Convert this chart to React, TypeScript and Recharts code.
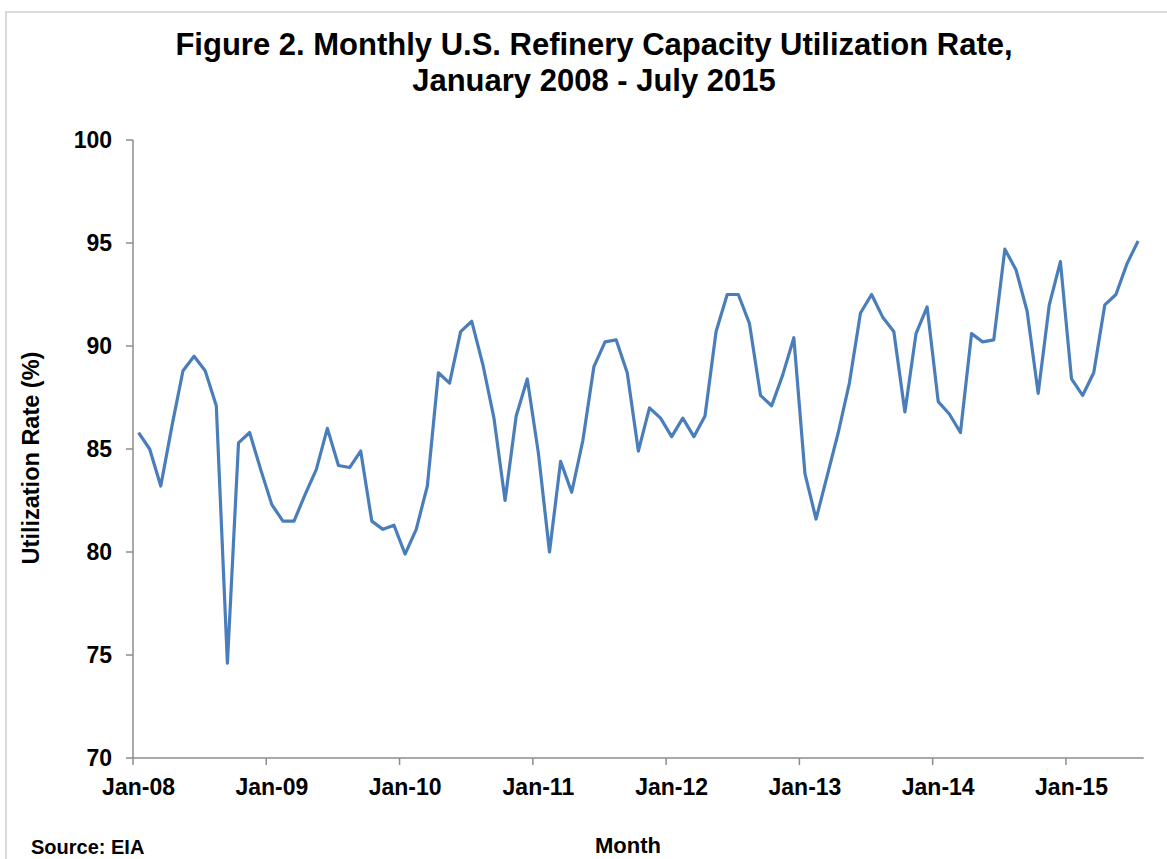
import React from "react";
import { LineChart, Line, XAxis, YAxis } from "recharts";

// monthly refinery utilization (%)
const RATE_2008 = [85.8, 85.0, 83.2, 86.1, 88.8, 89.5, 88.8, 87.1, 74.6, 85.3, 85.8, 84.0];
const RATE_2009 = [82.3, 81.5, 81.5, 82.8, 84.0, 86.0, 84.2, 84.1, 84.9, 81.5, 81.1, 81.3];
const RATE_2010 = [79.9, 81.1, 83.2, 88.7, 88.2, 90.7, 91.2, 89.1, 86.5, 82.5, 86.6, 88.4];
const RATE_2011 = [84.8, 80.0, 84.4, 82.9, 85.4, 89.0, 90.2, 90.3, 88.7, 84.9, 87.0, 86.5];
const RATE_2012 = [85.6, 86.5, 85.6, 86.6, 90.7, 92.5, 92.5, 91.1, 87.6, 87.1, 88.6, 90.4];
const RATE_2013 = [83.8, 81.6, 83.7, 85.8, 88.2, 91.6, 92.5, 91.4, 90.7, 86.8, 90.6, 91.9];
const RATE_2014 = [87.3, 86.7, 85.8, 90.6, 90.2, 90.3, 94.7, 93.7, 91.7, 87.7, 92.0, 94.1];
const RATE_2015 = [88.4, 87.6, 88.7, 92.0, 92.5, 94.0, 95.1];

const YEAR_LABELS = ["Jan-08", "Jan-09", "Jan-10", "Jan-11", "Jan-12", "Jan-13", "Jan-14", "Jan-15"];
const Y_TICKS = [70, 75, 80, 85, 90, 95, 100];

const rates = [
    ...RATE_2008, ...RATE_2009, ...RATE_2010, ...RATE_2011,
    ...RATE_2012, ...RATE_2013, ...RATE_2014, ...RATE_2015,
];
// each month sits in the middle of its slot, like Excel's date axis
const data = rates.map((rate, i) => ({ month: i + 0.5, rate }));
const MONTHS = rates.length;

const W = 1167;
const H = 859;
const PLOT_LEFT = 133;
const PLOT_RIGHT = 1143.7;
const HALF_MONTH = (PLOT_RIGHT - PLOT_LEFT) / MONTHS / 2;

const FONT = '"Liberation Sans", Arial, sans-serif';
const AXIS_GRAY = "#8c8c8c";

function MonthTick(props: any) {
    const { x, y, payload } = props;
    const label = YEAR_LABELS[Math.round(payload.value / 12)];
    return (
        <text
            x={x + HALF_MONTH}
            y={y + 30}
            textAnchor="middle"
            fontFamily={FONT}
            fontWeight="bold"
            fontSize={23}
            fill="#000"
        >
            {label}
        </text>
    );
}

export default function App() {
    return (
        <div
            style={{
                position: "absolute",
                left: 0,
                top: 0,
                width: W,
                height: H,
                overflow: "hidden",
                background: "#fff",
            }}
        >
            {/* chart frame, runs off the right and bottom edges */}
            <div
                style={{
                    position: "absolute",
                    left: 5,
                    top: 11,
                    width: 1300,
                    height: 1000,
                    border: "2px solid #d9d9d9",
                }}
            />
            <div style={{ position: "absolute", left: 0, top: 0 }}>
                <LineChart
                    width={W}
                    height={H}
                    data={data}
                    margin={{ top: 140, right: W - PLOT_RIGHT, bottom: 61, left: 53 }}
                >
                    <XAxis
                        dataKey="month"
                        type="number"
                        domain={[0, MONTHS]}
                        ticks={[0, 12, 24, 36, 48, 60, 72, 84]}
                        interval={0}
                        height={40}
                        tickSize={7}
                        tickMargin={0}
                        stroke={AXIS_GRAY}
                        strokeWidth={1.5}
                        tick={<MonthTick />}
                    />
                    <YAxis
                        type="number"
                        domain={[70, 100]}
                        ticks={Y_TICKS}
                        interval={0}
                        width={80}
                        tickSize={7}
                        tickMargin={14}
                        stroke={AXIS_GRAY}
                        strokeWidth={1.5}
                        tick={{
                            fill: "#000",
                            fontSize: 23,
                            fontWeight: "bold",
                            fontFamily: FONT,
                        }}
                    />
                    <Line
                        type="linear"
                        dataKey="rate"
                        stroke="#4a7ebb"
                        strokeWidth={3.2}
                        strokeLinejoin="round"
                        dot={false}
                        isAnimationActive={false}
                    />
                </LineChart>
            </div>
            <svg
                width={W}
                height={H}
                style={{ position: "absolute", left: 0, top: 0, pointerEvents: "none" }}
                fontFamily={FONT}
                fontWeight="bold"
            >
                <text x={594} y={55} textAnchor="middle" fontSize={31}>
                    Figure 2. Monthly U.S. Refinery Capacity Utilization Rate,
                </text>
                <text x={594} y={91} textAnchor="middle" fontSize={31}>
                    January 2008 - July 2015
                </text>
                <text
                    x={39}
                    y={458}
                    textAnchor="middle"
                    fontSize={23.5}
                    transform="rotate(-90 39 458)"
                >
                    Utilization Rate (%)
                </text>
                <text x={628} y={853} textAnchor="middle" fontSize={22}>
                    Month
                </text>
                <text x={31} y={854} fontSize={20}>
                    Source: EIA
                </text>
            </svg>
        </div>
    );
}
